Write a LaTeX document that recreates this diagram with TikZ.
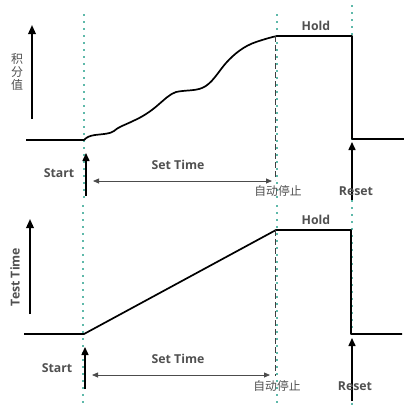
\documentclass[tikz,border=0pt]{standalone}
\usepackage{fontspec}
\setmainfont{Open Sans}
\newfontfamily\cjk{Noto Sans CJK SC}
\usetikzlibrary{arrows.meta}
\definecolor{teal1}{RGB}{95,185,170}
\definecolor{txt}{RGB}{80,80,80}
\begin{document}
\begin{tikzpicture}[x=1pt,y=-1pt,
  sig/.style={line width=1.7pt,line join=round},
  axis/.style={line width=1.8pt,-{Triangle[length=9pt,width=7.5pt]}},
  trig/.style={line width=1.5pt,-{Triangle[length=8pt,width=7pt]}},
  guide/.style={teal1,line width=1.6pt,dash pattern=on 2pt off 5pt},
  stopline/.style={black!75,line width=0.9pt,dash pattern=on 6pt off 3pt},
  span/.style={black!70,line width=0.8pt,{Triangle[length=6pt,width=5pt]}-{Triangle[length=6pt,width=5pt]}},
  lab/.style={txt,font=\fontsize{12.3}{14}\selectfont\bfseries,inner sep=0pt},
  clab/.style={txt,font=\cjk\fontsize{11.8}{14}\selectfont,inner sep=0pt}]
\useasboundingbox (0,0) rectangle (404,405);
% ---------- top panel ----------
\coordinate (g1t) at (84,14); \coordinate (g1b) at (84,200);
\coordinate (g2t) at (277,14); \coordinate (g2b) at (277,200);
\coordinate (g3t) at (352,5); \coordinate (g3b) at (352,200);
\draw[guide] (g1t) -- (g1b);
\draw[guide] (g2t) -- (g2b);
\draw[guide] (g3t) -- (g3b);
\coordinate (ax1a) at (32,119); \coordinate (ax1b) at (32,25);
\draw[axis] (ax1a) -- (ax1b);
\node[txt,font=\cjk\fontsize{12}{13}\selectfont,align=center,inner sep=0pt] (ylab1) at (17,72) {积\\分\\值};
\coordinate (b1s) at (26,140); \coordinate (b1e) at (84,140);
\coordinate (h1s) at (277,36); \coordinate (h1e) at (352,36);
\coordinate (r1d) at (352,139); \coordinate (r1e) at (404,139);
\draw[sig] (b1s) -- (b1e)
  .. controls (87,137) and (89,136) .. (95,135)
  .. controls (103,134) and (110,134) .. (114,131)
  .. controls (118,127) and (125,125) .. (133,121)
  .. controls (142,117) and (150,112) .. (158,105)
  .. controls (165,99) and (170,94) .. (176,92)
  .. controls (185,90) and (195,91) .. (202,88)
  .. controls (212,84) and (218,72) .. (226,63)
  .. controls (234,54) and (244,46) .. (256,42)
  .. controls (265,39) and (272,37) .. (h1s)
  -- (h1e) -- (r1d) -- (r1e);
\coordinate (s1a) at (275,36); \coordinate (s1b) at (275,180);
\draw[stopline] (s1a) -- (s1b);
\coordinate (st1a) at (86,196); \coordinate (st1b) at (86,153);
\draw[trig] (st1a) -- (st1b);
\coordinate (rs1a) at (352,200); \coordinate (rs1b) at (352,142);
\draw[trig] (rs1a) -- (rs1b);
\coordinate (sp1a) at (93,181); \coordinate (sp1b) at (272,181);
\draw[span] (sp1a) -- (sp1b);
\node[lab] (start1) at (59,173) {Start};
\node[lab] (set1) at (178,165) {Set Time};
\node[lab] (hold1) at (316,26) {Hold};
\node[clab] (stop1) at (278,191) {自动停止};
\node[lab] (reset1) at (356,191) {Reset};
% ---------- bottom panel ----------
\coordinate (k1t) at (83,205); \coordinate (k1b) at (83,405);
\coordinate (k2t) at (277,205); \coordinate (k2b) at (277,405);
\coordinate (k3t) at (352,200); \coordinate (k3b) at (352,405);
\draw[guide] (k1t) -- (k1b);
\draw[guide] (k2t) -- (k2b);
\draw[guide] (k3t) -- (k3b);
\coordinate (ax2a) at (30,314); \coordinate (ax2b) at (30,219);
\draw[axis] (ax2a) -- (ax2b);
\node[lab,rotate=90] (ylab2) at (15,277) {Test Time};
\coordinate (b2s) at (24,334); \coordinate (b2e) at (84,334);
\coordinate (h2s) at (276,230); \coordinate (h2e) at (351,230);
\coordinate (r2d) at (351,334); \coordinate (r2e) at (402,334);
\draw[sig] (b2s) -- (b2e) -- (h2s) -- (h2e) -- (r2d) -- (r2e);
\coordinate (s2a) at (275,230); \coordinate (s2b) at (275,376);
\draw[stopline] (s2a) -- (s2b);
\coordinate (st2a) at (85,389); \coordinate (st2b) at (85,347);
\draw[trig] (st2a) -- (st2b);
\coordinate (rs2a) at (352,401); \coordinate (rs2b) at (352,338);
\draw[trig] (rs2a) -- (rs2b);
\coordinate (sp2a) at (92,375); \coordinate (sp2b) at (270,375);
\draw[span] (sp2a) -- (sp2b);
\node[lab] (start2) at (57,368) {Start};
\node[lab] (set2) at (178,359) {Set Time};
\node[lab] (hold2) at (316,220) {Hold};
\node[clab] (stop2) at (277,386) {自动停止};
\node[lab] (reset2) at (355,386) {Reset};
\end{tikzpicture}
\end{document}
